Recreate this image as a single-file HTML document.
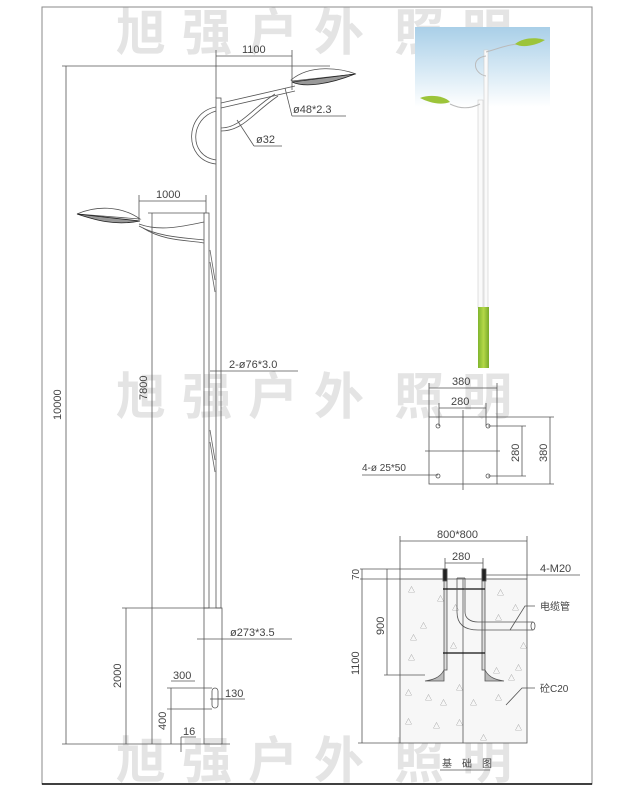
<!DOCTYPE html>
<html><head><meta charset="utf-8"><style>
html,body{margin:0;padding:0;background:#fff}
svg{display:block}
text{font-family:"Liberation Sans","Noto Sans CJK SC",sans-serif}
.wm{font-family:"Noto Sans CJK SC","WenQuanYi Zen Hei",sans-serif;font-size:50px;fill:#e4e4e4;font-weight:bold}
.t{font-size:11px;fill:#444}
</style></head><body>
<svg width="640" height="800" viewBox="0 0 640 800" xmlns="http://www.w3.org/2000/svg">
<defs>
<linearGradient id="sky" x1="0" y1="0" x2="0" y2="1"><stop offset="0" stop-color="#a9cfe8"/><stop offset="0.6" stop-color="#dcecf6"/><stop offset="1" stop-color="#fff"/></linearGradient>
<linearGradient id="gr" x1="0" y1="0" x2="1" y2="0"><stop offset="0" stop-color="#7fb52e"/><stop offset="0.5" stop-color="#b4d848"/><stop offset="1" stop-color="#79aa2a"/></linearGradient>
</defs>
<g class="wm">
<text x="116" y="50">旭</text><text x="182" y="50">强</text><text x="248" y="50">户</text><text x="314" y="50">外</text><text x="394" y="50">照</text><text x="462" y="50">明</text>
<text x="116" y="414">旭</text><text x="182" y="414">强</text><text x="248" y="414">户</text><text x="314" y="414">外</text><text x="394" y="414">照</text><text x="462" y="414">明</text>
<text x="116" y="778">旭</text><text x="182" y="778">强</text><text x="248" y="778">户</text><text x="314" y="778">外</text><text x="394" y="778">照</text><text x="462" y="778">明</text>
</g>
<rect x="42" y="7" width="550" height="777" fill="none" stroke="#888" stroke-width="1"/>
<line x1="42" y1="784" x2="592" y2="784" stroke="#000" stroke-width="1.5"/>

<g stroke="#555" stroke-width="0.8" fill="none">
<rect x="216" y="98" width="5" height="510"/>
<rect x="204" y="213" width="5" height="395"/>
<rect x="204" y="608" width="18" height="136"/>
<rect x="212" y="688" width="6" height="20" rx="3"/>
<g stroke="#666"><line x1="210" y1="250" x2="215" y2="280"/><line x1="210" y1="262" x2="215" y2="292"/><line x1="210" y1="430" x2="215" y2="460"/><line x1="210" y1="442" x2="215" y2="472"/></g>
<path d="M221,103 L295,86"/><path d="M221,108 L295,91"/>
<path d="M216,107 C185,112 182,160 216,164"/><path d="M216,111 C190,118 188,156 216,160"/>
<path d="M221,128 C240,128 250,110 275,94"/><path d="M221,131 C243,131 253,113 278,96"/>
<path d="M291,80 C310,64 340,68 356,74 L292,81 Z" fill="#fff"/>
<path d="M292,82 L355,74 C330,84 305,88 292,82" stroke="#222" fill="#999"/>
<path d="M139,224 C160,232 185,226 204,222"/><path d="M139,226 C160,238 190,238 204,240"/><path d="M143,228 C165,242 190,240 204,243"/>
<path d="M140,219 C120,205 95,206 77,214 L140,219 Z" fill="#fff"/>
<path d="M77,214 L140,221 C115,226 95,220 77,214" stroke="#222" fill="#999"/>
<line x1="66" y1="66" x2="66" y2="744"/><line x1="62" y1="66" x2="330" y2="66"/>
<line x1="152" y1="213" x2="152" y2="744"/><line x1="148" y1="213" x2="205" y2="213"/>
<line x1="126" y1="608" x2="126" y2="744"/><line x1="122" y1="608" x2="204" y2="608"/>
<line x1="62" y1="744" x2="230" y2="744"/>
<line x1="171" y1="688" x2="171" y2="744"/><line x1="167" y1="688" x2="212" y2="688"/><line x1="167" y1="709" x2="212" y2="709"/>
<line x1="171" y1="681" x2="195" y2="681"/>
<line x1="210" y1="699" x2="224" y2="699"/><line x1="218" y1="699" x2="245" y2="699"/>
<line x1="181" y1="737" x2="196" y2="737"/><line x1="181" y1="737" x2="181" y2="752"/>
<line x1="197" y1="639" x2="292" y2="639"/>
<line x1="216" y1="50" x2="216" y2="98"/><line x1="292" y1="50" x2="292" y2="90"/><line x1="216" y1="56" x2="292" y2="56"/>
<line x1="139" y1="195" x2="139" y2="220"/><line x1="206" y1="195" x2="206" y2="213"/><line x1="139" y1="201" x2="206" y2="201"/>
<line x1="285" y1="88" x2="292" y2="116"/><line x1="292" y1="116" x2="346" y2="116"/>
<line x1="237" y1="120" x2="254" y2="146"/><line x1="254" y1="146" x2="282" y2="146"/>
<line x1="210" y1="371" x2="298" y2="371"/>
</g>
<g class="t">
<text x="242" y="53">1100</text>
<text x="156" y="198">1000</text>
<text x="293" y="113">ø48*2.3</text>
<text x="256" y="143">ø32</text>
<text x="229" y="368">2-ø76*3.0</text>
<text x="230" y="636">ø273*3.5</text>
<text x="173" y="679">300</text>
<text x="225" y="697">130</text>
<text x="183" y="735">16</text>
<text transform="translate(61,420) rotate(-90)">10000</text>
<text transform="translate(147,400) rotate(-90)">7800</text>
<text transform="translate(121,688) rotate(-90)">2000</text>
<text transform="translate(166,730) rotate(-90)">400</text>
</g>

<rect x="415" y="27" width="135" height="80" fill="url(#sky)"/>
<rect x="484" y="50" width="4" height="258" fill="#fafafa" stroke="#ccc" stroke-width="0.6"/>
<rect x="478" y="100" width="5" height="208" fill="#fafafa" stroke="#ccc" stroke-width="0.6"/>
<rect x="478" y="307" width="11" height="61" fill="url(#gr)"/>
<path d="M486,52 C500,48 510,44 520,44" stroke="#bbb" fill="none"/>
<path d="M486,56 C470,58 474,74 486,76" stroke="#bbb" fill="none"/>
<path d="M515,44 C525,36 540,38 545,40 C535,46 522,48 515,44 Z" fill="#9cc43a"/>
<path d="M450,104 C462,110 472,108 480,104" stroke="#bbb" fill="none"/>
<path d="M420,98 C430,94 445,96 450,102 C440,106 428,102 420,98 Z" fill="#9cc43a"/>

<g stroke="#555" stroke-width="0.8" fill="none">
<rect x="429" y="417" width="68" height="67"/>
<circle cx="438" cy="426" r="2"/><circle cx="488" cy="426" r="2"/><circle cx="438" cy="476" r="2"/><circle cx="488" cy="476" r="2"/>
<line x1="463" y1="410" x2="463" y2="490"/><line x1="425" y1="451" x2="500" y2="451"/>
<line x1="429" y1="388" x2="497" y2="388"/><line x1="429" y1="383" x2="429" y2="417"/><line x1="497" y1="383" x2="497" y2="417"/>
<line x1="439" y1="408" x2="486" y2="408"/><line x1="439" y1="403" x2="439" y2="426"/><line x1="486" y1="403" x2="486" y2="426"/>
<line x1="488" y1="426" x2="526" y2="426"/><line x1="488" y1="476" x2="526" y2="476"/><line x1="522" y1="426" x2="522" y2="476"/>
<line x1="497" y1="417" x2="554" y2="417"/><line x1="497" y1="484" x2="554" y2="484"/><line x1="550" y1="417" x2="550" y2="484"/>
<line x1="362" y1="475" x2="438" y2="475"/>
</g>
<g class="t">
<text x="452" y="385">380</text><text x="451" y="405">280</text>
<text transform="translate(519,462) rotate(-90)">280</text>
<text transform="translate(547,462) rotate(-90)">380</text>
<text x="362" y="471" style="font-size:10px">4-ø 25*50</text>
</g>

<rect x="400" y="579" width="127" height="164" fill="#f7f7f7" stroke="#555" stroke-width="0.8"/>
<g fill="#888" font-size="7">
<text x="408" y="592">△</text><text x="437" y="601">△</text><text x="410" y="640">△</text><text x="420" y="628">△</text><text x="497" y="595">△</text><text x="512" y="610">△</text><text x="520" y="648">△</text><text x="515" y="670">△</text><text x="493" y="673">△</text><text x="508" y="680">△</text><text x="408" y="660">△</text><text x="405" y="695">△</text><text x="425" y="700">△</text><text x="440" y="705">△</text><text x="456" y="690">△</text><text x="470" y="705">△</text><text x="495" y="700">△</text><text x="405" y="724">△</text><text x="433" y="728">△</text><text x="456" y="725">△</text><text x="480" y="740">△</text><text x="515" y="730">△</text><text x="495" y="620">△</text><text x="452" y="610">△</text><text x="450" y="648">△</text>
</g>
<g stroke="#555" stroke-width="0.8" fill="none">
<line x1="463" y1="579" x2="463" y2="743"/>
<rect x="444" y="569" width="3" height="101" fill="#ddd"/><rect x="482" y="569" width="3" height="101" fill="#ddd"/>
<rect x="443" y="569" width="4" height="12" fill="#222"/><rect x="482" y="569" width="4" height="12" fill="#222"/>
<line x1="443" y1="589" x2="485" y2="589" stroke="#111" stroke-width="1.3"/>
<line x1="443" y1="653" x2="485" y2="653" stroke="#111" stroke-width="1.3"/>
<path d="M457,578 L457,612 C457,625 465,630 478,630 L533,630"/>
<path d="M465,578 L465,612 C465,618 470,622 478,622 L533,622"/>
<line x1="457" y1="578" x2="465" y2="578"/><ellipse cx="533" cy="626" rx="2" ry="4"/>
<path d="M444,670 C440,678 432,680 425,681 L444,681 Z" fill="#bbb"/>
<path d="M485,670 C489,678 497,680 504,681 L485,681 Z" fill="#bbb"/>
<line x1="400" y1="541" x2="527" y2="541"/><line x1="400" y1="536" x2="400" y2="579"/><line x1="527" y1="536" x2="527" y2="579"/>
<line x1="445" y1="563" x2="483" y2="563"/><line x1="445" y1="558" x2="445" y2="569"/><line x1="483" y1="558" x2="483" y2="569"/>
<line x1="360" y1="569" x2="445" y2="569"/><line x1="360" y1="579" x2="400" y2="579"/>
<line x1="387" y1="569" x2="387" y2="675"/><line x1="384" y1="675" x2="425" y2="675"/>
<line x1="362" y1="569" x2="362" y2="743"/><line x1="358" y1="743" x2="400" y2="743"/>
<line x1="486" y1="575" x2="580" y2="575"/>
<path d="M510,630 L525,606 L535,606"/>
<path d="M506,705 L522,688 L535,688"/>
<line x1="440" y1="770" x2="490" y2="770"/>
</g>
<g class="t">
<text x="437" y="538">800*800</text>
<text x="452" y="560">280</text>
<text x="540" y="572">4-M20</text>
<text x="540" y="610" style="font-size:10px">电缆管</text>
<text x="540" y="692" style="font-size:10px">砼C20</text>
<text x="442" y="767" style="font-size:10px">基　础　图</text>
<text transform="translate(359,580) rotate(-90)" style="font-size:10px">70</text>
<text transform="translate(384,635) rotate(-90)">900</text>
<text transform="translate(359,675) rotate(-90)">1100</text>
</g>
</svg>
</body></html>
